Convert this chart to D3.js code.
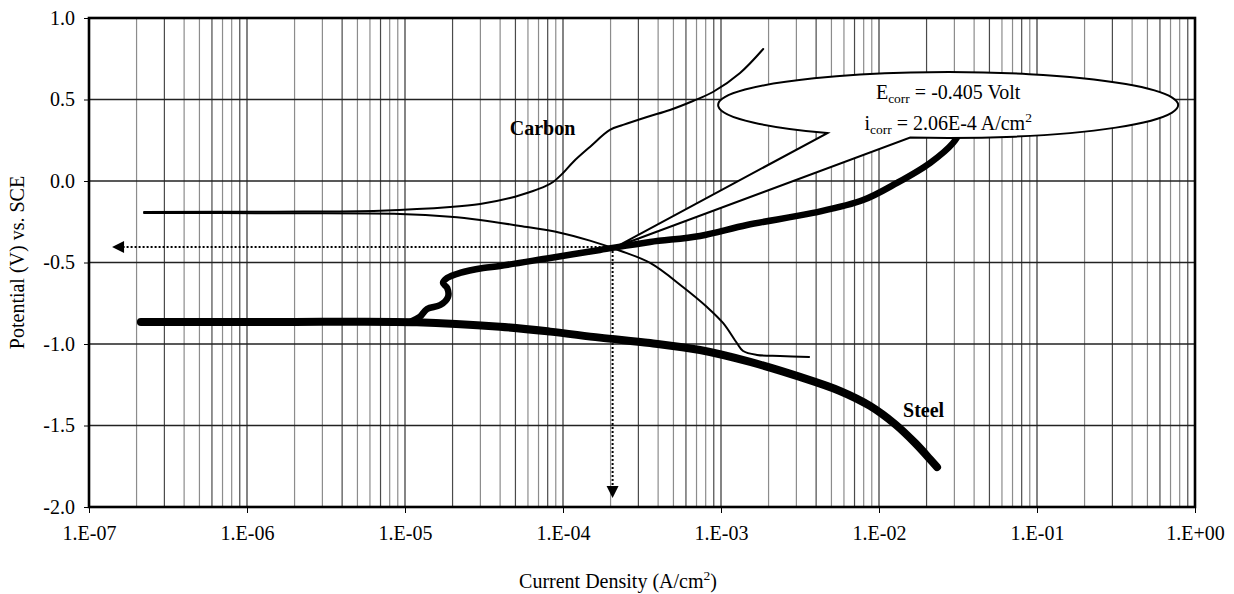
<!DOCTYPE html>
<html>
<head>
<meta charset="utf-8">
<script src="https://cdn.jsdelivr.net/npm/d3@7"></script>
<style>
  html, body { margin: 0; padding: 0; background: #fff; }
  svg { display: block; }
  text { font-family: "Liberation Serif", "Times New Roman", serif; fill: #000; }
</style>
</head>
<body>
<svg id="chart" width="1234" height="594"></svg>
<script>
// ---------------- data ----------------
const xTickValues = [1e-7, 1e-6, 1e-5, 1e-4, 1e-3, 1e-2, 1e-1, 1];
const xTickLabels = ["1.E-07", "1.E-06", "1.E-05", "1.E-04", "1.E-03", "1.E-02", "1.E-01", "1.E+00"];
const yTickValues = [1.0, 0.5, 0.0, -0.5, -1.0, -1.5, -2.0];
const yTickLabels = ["1.0", "0.5", "0.0", "-0.5", "-1.0", "-1.5", "-2.0"];

// Carbon: anodic branch (current A/cm2, potential V)
const carbonAnodicI = [2.23e-7, 1.5e-6, 6.95e-6, 1.93e-5, 2.99e-5, 4.62e-5, 6.46e-5, 7.69e-5, 8.65e-5, 1.00e-4, 1.16e-4, 1.48e-4, 1.98e-4, 2.40e-4, 3.40e-4, 4.75e-4, 6.65e-4, 8.89e-4, 1.32e-3, 1.85e-3];
const carbonAnodicV = [-0.190, -0.188, -0.182, -0.160, -0.141, -0.104, -0.061, -0.033, -0.006, 0.049, 0.117, 0.209, 0.313, 0.344, 0.393, 0.436, 0.491, 0.546, 0.663, 0.810];
// Carbon: cathodic branch
const carbonCathodicI = [2.23e-7, 1.5e-6, 9.29e-6, 1.93e-5, 2.99e-5, 5.35e-5, 9.57e-5, 1.48e-4, 2.30e-4, 3.56e-4, 5.74e-4, 8.15e-4, 1.03e-3, 1.26e-3, 1.38e-3, 1.69e-3, 2.36e-3, 3.61e-3];
const carbonCathodicV = [-0.196, -0.198, -0.202, -0.219, -0.239, -0.276, -0.317, -0.366, -0.428, -0.503, -0.650, -0.773, -0.871, -0.994, -1.043, -1.067, -1.074, -1.080];

// Steel: cathodic branch
const steelCathodicI = [2.13e-7, 1.5e-6, 1.19e-5, 3.99e-5, 8.28e-5, 1.71e-4, 3.56e-4, 7.36e-4, 1.53e-3, 3.16e-3, 5.66e-3, 8.77e-3, 1.26e-2, 1.69e-2, 2.10e-2, 2.33e-2];
const steelCathodicV = [-0.865, -0.865, -0.866, -0.894, -0.924, -0.961, -0.994, -1.037, -1.110, -1.202, -1.288, -1.380, -1.491, -1.607, -1.706, -1.755];
// Steel: anodic branch
const steelAnodicI = [1.10e-5, 1.24e-5, 1.38e-5, 1.67e-5, 1.87e-5, 1.85e-5, 1.74e-5, 1.85e-5, 2.23e-5, 3.12e-5, 3.99e-5, 8.28e-5, 1.71e-4, 3.56e-4, 7.36e-4, 1.46e-3, 3.82e-3, 7.93e-3, 1.30e-2, 2.10e-2, 2.94e-2, 3.35e-2];
const steelAnodicV = [-0.860, -0.834, -0.785, -0.761, -0.712, -0.656, -0.626, -0.595, -0.564, -0.534, -0.521, -0.472, -0.423, -0.374, -0.337, -0.270, -0.196, -0.117, -0.012, 0.110, 0.233, 0.325];

// Corrosion point
const Ecorr = -0.405;
const icorr = 2.06e-4;
const arrowLeftI = 1.4e-7;
const arrowBottomV = -1.945;

// Labels
const seriesLabels = [
  { text: "Carbon", i: 4.6e-5, v: 0.282 },
  { text: "Steel", i: 1.42e-2, v: -1.448 }
];
const calloutCenter = { i: 2.74e-2, v: 0.466 };

// ---------------- chart ----------------
const svg = d3.select("#chart");
const mLeft = 89, mRight = 1195, mTop = 18, mBottom = 507;
const FONT = 20;
const SUB = 13.5;

const x = d3.scaleLog().domain([1e-7, 1]).range([mLeft, mRight]);
const y = d3.scaleLinear().domain([-2, 1]).range([mBottom, mTop]);

// minor vertical gridlines
const minor = [];
for (let d = -7; d < 0; d++) for (let k = 2; k <= 9; k++) minor.push(k * Math.pow(10, d));

const grid = svg.append("g");
grid.selectAll("line.minor").data(minor).enter().append("line")
  .attr("x1", d => x(d)).attr("x2", d => x(d))
  .attr("y1", mTop).attr("y2", mBottom)
  .attr("stroke", (d, i) => (i % 3 === 1 ? "#4a4a4a" : "#8c8c8c"))
  .attr("stroke-width", 1.2);
grid.selectAll("line.major").data(xTickValues).enter().append("line")
  .attr("x1", d => x(d)).attr("x2", d => x(d))
  .attr("y1", mTop).attr("y2", mBottom)
  .attr("stroke", "#333").attr("stroke-width", 1.2);
grid.selectAll("line.h").data(yTickValues).enter().append("line")
  .attr("x1", mLeft).attr("x2", mRight)
  .attr("y1", d => y(d)).attr("y2", d => y(d))
  .attr("stroke", "#222").attr("stroke-width", 1.3);

// axes
const xAxis = d3.axisBottom(x).tickValues(xTickValues)
  .tickFormat((d, i) => xTickLabels[i]).tickSize(6).tickPadding(13);
const gx = svg.append("g").attr("transform", `translate(0,${mBottom})`).call(xAxis);
gx.select(".domain").remove();
gx.selectAll("text").attr("font-size", FONT).attr("font-family", "Liberation Serif");
gx.selectAll("line").attr("stroke", "#000");

const yAxis = d3.axisLeft(y).tickValues(yTickValues)
  .tickFormat((d, i) => yTickLabels[i]).tickSize(5).tickPadding(9);
const gy = svg.append("g").attr("transform", `translate(${mLeft},0)`).call(yAxis);
gy.select(".domain").remove();
gy.selectAll("text").attr("font-size", FONT).attr("font-family", "Liberation Serif");
gy.selectAll("line").attr("stroke", "#000");

// frame
svg.append("rect").attr("x", mLeft).attr("y", mTop)
  .attr("width", mRight - mLeft).attr("height", mBottom - mTop)
  .attr("fill", "none").attr("stroke", "#000").attr("stroke-width", 2.6);

// curves
const line = d3.line().x(d => x(d[0])).y(d => y(d[1])).curve(d3.curveCatmullRom.alpha(0.5));
const zip = (a, b) => a.map((v, i) => [v, b[i]]);

const curves = svg.append("g").attr("fill", "none").attr("stroke", "#000")
  .attr("stroke-linecap", "round").attr("stroke-linejoin", "round");
curves.append("path").attr("d", line(zip(carbonAnodicI, carbonAnodicV))).attr("stroke-width", 2);
curves.append("path").attr("d", line(zip(carbonCathodicI, carbonCathodicV))).attr("stroke-width", 2);
curves.append("path").attr("d", line(zip(steelCathodicI, steelCathodicV))).attr("stroke-width", 8);
curves.append("path").attr("d", line(zip(steelAnodicI, steelAnodicV))).attr("stroke-width", 6.5);

// dotted arrows
const dots = svg.append("g").attr("stroke", "#000").attr("stroke-width", 2).attr("stroke-dasharray", "2,2");
dots.append("line").attr("x1", x(icorr)).attr("x2", x(arrowLeftI) + 10)
  .attr("y1", y(Ecorr)).attr("y2", y(Ecorr));
dots.append("line").attr("x1", x(icorr)).attr("x2", x(icorr))
  .attr("y1", y(Ecorr)).attr("y2", y(arrowBottomV) - 10);
const ax = x(arrowLeftI), ay = y(Ecorr);
svg.append("path").attr("d", `M${ax},${ay} L${ax + 12},${ay - 6} L${ax + 12},${ay + 6} Z`).attr("fill", "#000");
const bx = x(icorr), by = y(arrowBottomV);
svg.append("path").attr("d", `M${bx},${by} L${bx - 6},${by - 12} L${bx + 6},${by - 12} Z`).attr("fill", "#000");

// callout balloon
const cx = x(calloutCenter.i), cy = y(calloutCenter.v), rx = 230, ry = 33;
const pt = deg => [cx + rx * Math.cos(deg * Math.PI / 180), cy + ry * Math.sin(deg * Math.PI / 180)];
const p1 = pt(99.5), p2 = pt(121.7);
const tipX = x(icorr) + 3, tipY = y(Ecorr);
svg.append("path")
  .attr("d", `M${p1[0]},${p1[1]} A${rx},${ry} 0 1 0 ${p2[0]},${p2[1]} L${tipX},${tipY} Z`)
  .attr("fill", "#fff").attr("stroke", "#000").attr("stroke-width", 2).attr("stroke-linejoin", "miter");

const t1 = svg.append("text").attr("x", cx).attr("y", cy - 6).attr("text-anchor", "middle").attr("font-size", FONT);
t1.append("tspan").text("E");
t1.append("tspan").attr("font-size", SUB).attr("dy", 4).text("corr");
t1.append("tspan").attr("dy", -4).text(" = -0.405 Volt");

const t2 = svg.append("text").attr("x", cx).attr("y", cy + 25).attr("text-anchor", "middle").attr("font-size", FONT);
t2.append("tspan").text("i");
t2.append("tspan").attr("font-size", SUB).attr("dy", 4).text("corr");
t2.append("tspan").attr("dy", -4).text(" = 2.06E-4 A/cm");
t2.append("tspan").attr("font-size", SUB).attr("dy", -8).text("2");

// series labels
svg.selectAll("text.series").data(seriesLabels).enter().append("text")
  .attr("x", d => x(d.i)).attr("y", d => y(d.v))
  .attr("font-size", FONT).attr("font-weight", "bold").text(d => d.text);

// axis titles
const xt = svg.append("text").attr("x", 618).attr("y", 588).attr("text-anchor", "middle").attr("font-size", FONT);
xt.append("tspan").text("Current Density (A/cm");
xt.append("tspan").attr("font-size", SUB).attr("dy", -8).text("2");
xt.append("tspan").attr("dy", 8).text(")");

svg.append("text").attr("transform", `translate(24,${(mTop + mBottom) / 2}) rotate(-90)`)
  .attr("text-anchor", "middle").attr("font-size", FONT).text("Potential (V) vs. SCE");
</script>
</body>
</html>
